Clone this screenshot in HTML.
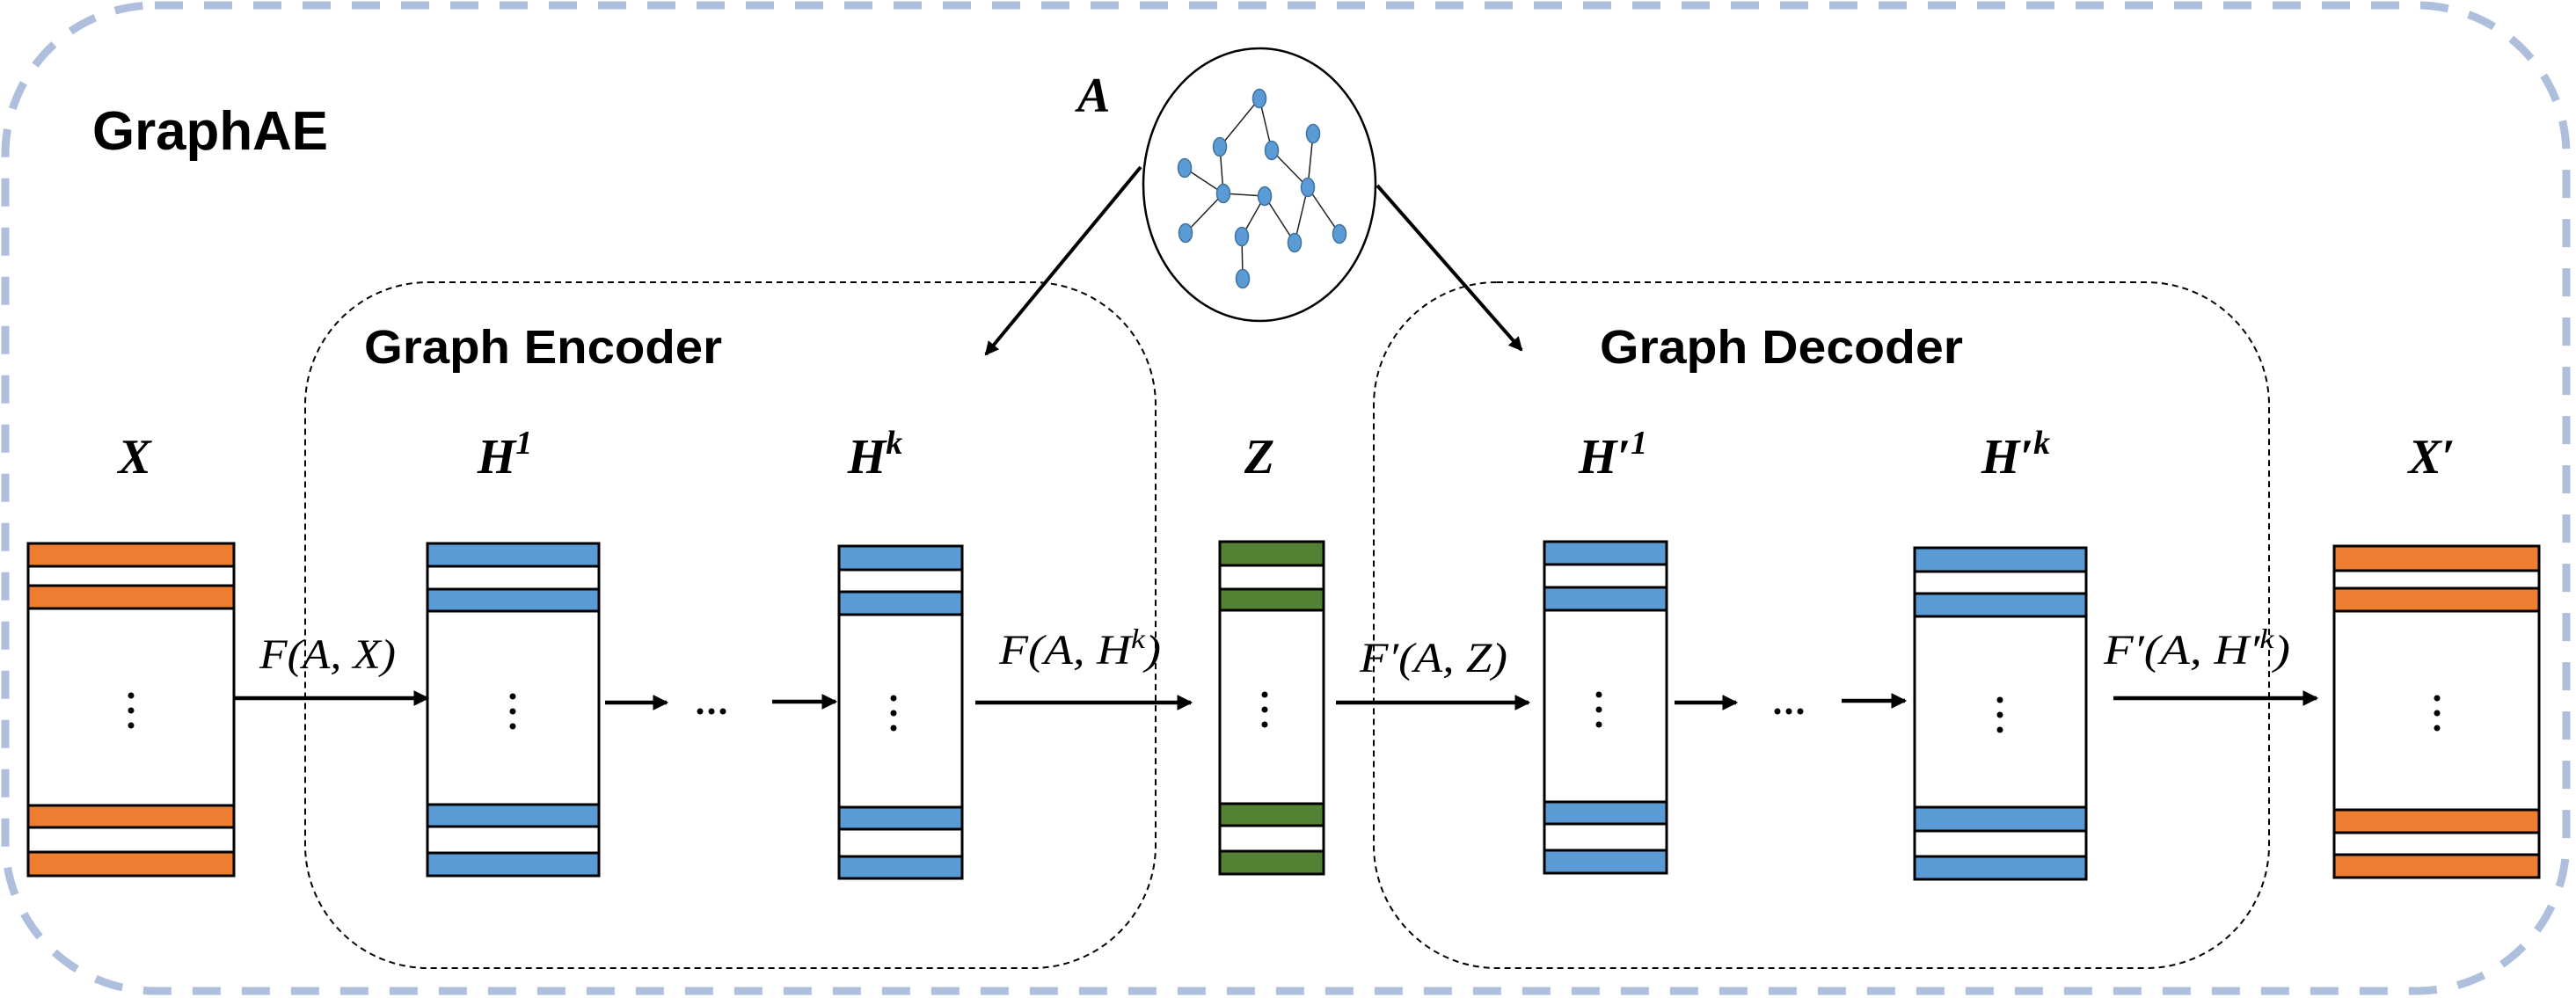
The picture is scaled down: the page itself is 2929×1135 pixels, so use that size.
<!DOCTYPE html>
<html><head><meta charset="utf-8"><style>
html,body{margin:0;padding:0;background:#fff}
svg{display:block}
.m{font-family:"Liberation Serif",serif;font-weight:bold;font-style:italic;font-size:56px}
.f{font-family:"Liberation Serif",serif;font-style:italic;font-size:48px}
.t{font-family:"Liberation Sans",sans-serif;font-weight:bold}
</style></head><body>
<svg width="2929" height="1135" viewBox="0 0 2929 1135" xmlns="http://www.w3.org/2000/svg">
<defs>
<marker id="ah" markerWidth="4" markerHeight="4" refX="3.5" refY="2" orient="auto" markerUnits="strokeWidth"><path d="M0,0 L4,2 L0,4 Z" fill="#000"/></marker>
</defs>
<rect x="0" y="0" width="2929" height="1135" fill="#fff"/>
<rect x="6" y="6" width="2912" height="1121" rx="170" ry="170" fill="none" stroke="#adbfdd" stroke-width="9" stroke-dasharray="32 24"/>
<text class="t" x="105" y="170" font-size="62" textLength="268" lengthAdjust="spacingAndGlyphs">GraphAE</text>

<rect x="347" y="321" width="967" height="780" rx="140" ry="140" fill="none" stroke="#000" stroke-width="2" stroke-dasharray="7 5"/>
<rect x="1562" y="321" width="1018" height="780" rx="140" ry="140" fill="none" stroke="#000" stroke-width="2" stroke-dasharray="7 5"/>
<text class="t" x="414" y="413" font-size="54" textLength="407" lengthAdjust="spacingAndGlyphs">Graph Encoder</text>
<text class="t" x="1819" y="413" font-size="54" textLength="413" lengthAdjust="spacingAndGlyphs">Graph Decoder</text>

<ellipse cx="1432" cy="210" rx="132" ry="155" fill="#fff" stroke="#000" stroke-width="2.5"/>
<g stroke="#222" stroke-width="1.5">
<line x1="1432" y1="112" x2="1387" y2="167"/><line x1="1432" y1="112" x2="1446" y2="171"/>
<line x1="1446" y1="171" x2="1487" y2="213"/><line x1="1493" y1="152" x2="1487" y2="213"/>
<line x1="1387" y1="167" x2="1391" y2="220"/><line x1="1347" y1="191" x2="1391" y2="220"/>
<line x1="1391" y1="220" x2="1438" y2="223"/><line x1="1391" y1="220" x2="1348" y2="265"/>
<line x1="1438" y1="223" x2="1412" y2="269"/><line x1="1438" y1="223" x2="1472" y2="276"/>
<line x1="1487" y1="213" x2="1472" y2="276"/><line x1="1487" y1="213" x2="1523" y2="266"/>
<line x1="1412" y1="269" x2="1413" y2="317"/>
</g>
<g fill="#5b9bd5" stroke="#41719c" stroke-width="1.5">
<ellipse cx="1432" cy="112" rx="7.5" ry="10.5"/><ellipse cx="1387" cy="167" rx="7.5" ry="10.5"/>
<ellipse cx="1446" cy="171" rx="7.5" ry="10.5"/><ellipse cx="1493" cy="152" rx="7.5" ry="10.5"/>
<ellipse cx="1347" cy="191" rx="7.5" ry="10.5"/><ellipse cx="1391" cy="220" rx="7.5" ry="10.5"/>
<ellipse cx="1438" cy="223" rx="7.5" ry="10.5"/><ellipse cx="1487" cy="213" rx="7.5" ry="10.5"/>
<ellipse cx="1348" cy="265" rx="7.5" ry="10.5"/><ellipse cx="1412" cy="269" rx="7.5" ry="10.5"/>
<ellipse cx="1472" cy="276" rx="7.5" ry="10.5"/><ellipse cx="1523" cy="266" rx="7.5" ry="10.5"/>
<ellipse cx="1413" cy="317" rx="7.5" ry="10.5"/>
</g>
<text class="m" x="1225" y="127">A</text>
<line x1="1297" y1="190" x2="1121" y2="403" stroke="#000" stroke-width="4" marker-end="url(#ah)"/>
<line x1="1566" y1="211" x2="1730" y2="398" stroke="#000" stroke-width="4" marker-end="url(#ah)"/>

<g stroke="#000" stroke-width="3">
<rect x="32" y="618" width="234" height="378" fill="#fff"/>
<rect x="32" y="618" width="234" height="26" fill="#ed7d31"/><rect x="32" y="666" width="234" height="26" fill="#ed7d31"/>
<rect x="32" y="916" width="234" height="25" fill="#ed7d31"/><rect x="32" y="969" width="234" height="27" fill="#ed7d31"/>
<rect x="486" y="618" width="195" height="378" fill="#fff"/>
<rect x="486" y="618" width="195" height="26" fill="#5b9bd5"/><rect x="486" y="670" width="195" height="25" fill="#5b9bd5"/>
<rect x="486" y="915" width="195" height="25" fill="#5b9bd5"/><rect x="486" y="970" width="195" height="26" fill="#5b9bd5"/>
<rect x="954" y="621" width="140" height="378" fill="#fff"/>
<rect x="954" y="621" width="140" height="27" fill="#5b9bd5"/><rect x="954" y="673" width="140" height="26" fill="#5b9bd5"/>
<rect x="954" y="918" width="140" height="25" fill="#5b9bd5"/><rect x="954" y="974" width="140" height="25" fill="#5b9bd5"/>
<rect x="1387" y="616" width="118" height="378" fill="#fff"/>
<rect x="1387" y="616" width="118" height="27" fill="#548235"/><rect x="1387" y="670" width="118" height="24" fill="#548235"/>
<rect x="1387" y="914" width="118" height="25" fill="#548235"/><rect x="1387" y="968" width="118" height="26" fill="#548235"/>
<rect x="1756" y="616" width="139" height="377" fill="#fff"/>
<rect x="1756" y="616" width="139" height="26" fill="#5b9bd5"/><rect x="1756" y="668" width="139" height="26" fill="#5b9bd5"/>
<rect x="1756" y="912" width="139" height="25" fill="#5b9bd5"/><rect x="1756" y="967" width="139" height="26" fill="#5b9bd5"/>
<rect x="2177" y="623" width="195" height="377" fill="#fff"/>
<rect x="2177" y="623" width="195" height="27" fill="#5b9bd5"/><rect x="2177" y="675" width="195" height="26" fill="#5b9bd5"/>
<rect x="2177" y="918" width="195" height="27" fill="#5b9bd5"/><rect x="2177" y="974" width="195" height="26" fill="#5b9bd5"/>
<rect x="2654" y="621" width="233" height="377" fill="#fff"/>
<rect x="2654" y="621" width="233" height="28" fill="#ed7d31"/><rect x="2654" y="669" width="233" height="26" fill="#ed7d31"/>
<rect x="2654" y="921" width="233" height="26" fill="#ed7d31"/><rect x="2654" y="972" width="233" height="26" fill="#ed7d31"/>
</g>
<g fill="#000">
<circle cx="149" cy="791" r="3.5"/><circle cx="149" cy="808" r="3.5"/><circle cx="149" cy="825" r="3.5"/>
<circle cx="583" cy="792" r="3.5"/><circle cx="583" cy="809" r="3.5"/><circle cx="583" cy="826" r="3.5"/>
<circle cx="1016" cy="794" r="3.5"/><circle cx="1016" cy="811" r="3.5"/><circle cx="1016" cy="828" r="3.5"/>
<circle cx="1438" cy="790" r="3.5"/><circle cx="1438" cy="807" r="3.5"/><circle cx="1438" cy="824" r="3.5"/>
<circle cx="1818" cy="790" r="3.5"/><circle cx="1818" cy="807" r="3.5"/><circle cx="1818" cy="824" r="3.5"/>
<circle cx="2274" cy="796" r="3.5"/><circle cx="2274" cy="813" r="3.5"/><circle cx="2274" cy="830" r="3.5"/>
<circle cx="2771" cy="794" r="3.5"/><circle cx="2771" cy="811" r="3.5"/><circle cx="2771" cy="828" r="3.5"/>
<circle cx="796" cy="809" r="3.5"/><circle cx="809" cy="809" r="3.5"/><circle cx="822" cy="809" r="3.5"/>
<circle cx="2021" cy="809" r="3.5"/><circle cx="2034" cy="809" r="3.5"/><circle cx="2047" cy="809" r="3.5"/>
</g>

<text class="m" x="153" y="538" text-anchor="middle">X</text>
<text class="m" x="574" y="538" text-anchor="middle">H<tspan font-size="38" dy="-22">1</tspan></text>
<text class="m" x="995" y="538" text-anchor="middle">H<tspan font-size="38" dy="-22">k</tspan></text>
<text class="m" x="1432" y="538" text-anchor="middle">Z</text>
<text class="m" x="1834" y="538" text-anchor="middle">H′<tspan font-size="38" dy="-22">1</tspan></text>
<text class="m" x="2292" y="538" text-anchor="middle">H′<tspan font-size="38" dy="-22">k</tspan></text>
<text class="m" x="2765" y="538" text-anchor="middle">X′</text>

<text class="f" x="295" y="760" textLength="155" lengthAdjust="spacingAndGlyphs">F(A, X)</text>
<text class="f" x="1136" y="755" textLength="184" lengthAdjust="spacingAndGlyphs">F(A, H<tspan font-size="32" dy="-18">k</tspan><tspan dy="18">)</tspan></text>
<text class="f" x="1546" y="764" textLength="168" lengthAdjust="spacingAndGlyphs">F′(A, Z)</text>
<text class="f" x="2392" y="755" textLength="212" lengthAdjust="spacingAndGlyphs">F′(A, H′<tspan font-size="32" dy="-18">k</tspan><tspan dy="18">)</tspan></text>

<g stroke="#000" stroke-width="4.5" marker-end="url(#ah)">
<line x1="266" y1="794" x2="486" y2="794"/>
<line x1="688" y1="799" x2="758" y2="799"/>
<line x1="878" y1="798" x2="950" y2="798"/>
<line x1="1109" y1="799" x2="1354" y2="799"/>
<line x1="1519" y1="799" x2="1738" y2="799"/>
<line x1="1904" y1="799" x2="1974" y2="799"/>
<line x1="2094" y1="797" x2="2166" y2="797"/>
<line x1="2403" y1="794" x2="2634" y2="794"/>
</g>
</svg>
</body></html>
